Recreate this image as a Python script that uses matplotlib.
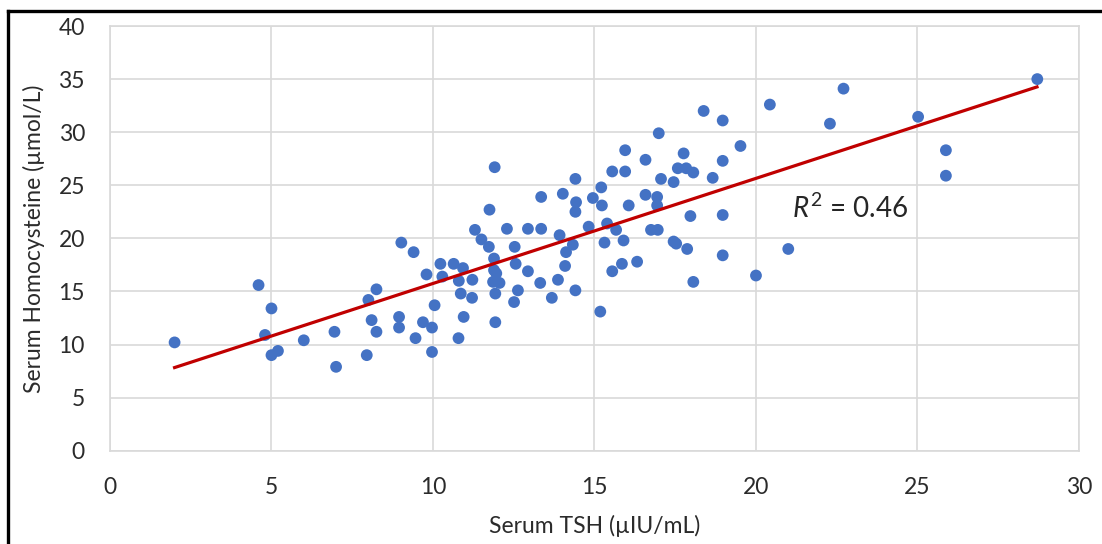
"""Serum TSH vs serum homocysteine scatter with linear trend line (Excel look)."""
import numpy as np
import matplotlib; matplotlib.use("Agg")
import matplotlib.pyplot as plt
from matplotlib.lines import Line2D

plt.rcParams["font.family"] = ["Lato", "DejaVu Sans"]
plt.rcParams["mathtext.fontset"] = "custom"
plt.rcParams["mathtext.rm"] = "Lato"
plt.rcParams["mathtext.it"] = "Lato:italic"

# values
tsh = [2.0, 4.6, 4.8, 5.0, 5.0, 5.2, 6.0, 6.95, 7.0, 8.0, 8.25, 8.1, 8.25, 7.95, 8.95, 8.95,
       9.02, 9.40, 9.80, 10.23, 10.29, 10.64, 10.93, 10.80, 11.22, 10.86, 11.21, 10.05, 10.95,
       9.69, 9.97, 9.46, 10.79, 9.97, 11.93, 11.30, 11.50, 11.73, 11.89, 11.89, 11.96, 11.86,
       12.06, 11.93, 12.29, 12.53, 12.56, 12.63, 12.51, 12.94, 13.35, 12.94, 13.32, 13.68,
       13.87, 13.92, 14.12, 14.09, 14.33, 14.41,
       11.91, 11.75, 13.35, 14.02, 14.41, 14.43, 14.41,
       18.38, 18.97, 16.99, 19.52, 15.95, 16.58, 17.76, 18.97, 17.58, 17.84, 18.06, 15.55,
       15.95, 18.66, 17.06, 17.45, 15.21, 16.58, 16.94, 16.94, 14.95, 15.23, 16.06, 17.97,
       18.97, 14.82, 15.39, 15.67, 16.75, 16.96,
       15.31, 15.90, 17.45, 17.53, 17.87, 18.97, 15.85, 15.55, 16.32, 18.06, 15.18, 20.0,
       20.43, 22.71, 22.29, 25.02, 25.88, 25.88, 28.71, 21.0]
hcy = [10.2, 15.6, 10.9, 13.4, 9.0, 9.4, 10.4, 11.2, 7.9, 14.2, 15.2, 12.3, 11.2, 9.0, 12.6, 11.6,
       19.6, 18.7, 16.6, 17.6, 16.4, 17.6, 17.2, 16.0, 16.1, 14.8, 14.4, 13.7, 12.6,
       12.1, 11.6, 10.6, 10.6, 9.3, 12.1, 20.8, 19.9, 19.2, 18.1, 17.0, 16.7, 15.9,
       15.8, 14.8, 20.9, 19.2, 17.6, 15.1, 14.0, 20.9, 20.9, 16.9, 15.8, 14.4,
       16.1, 20.3, 18.7, 17.4, 19.4, 15.1,
       26.7, 22.7, 23.9, 24.2, 25.6, 23.4, 22.5,
       32.0, 31.1, 29.9, 28.7, 28.3, 27.4, 28.0, 27.3, 26.6, 26.6, 26.2, 26.3,
       26.3, 25.7, 25.6, 25.3, 24.8, 24.1, 23.9, 23.1, 23.8, 23.1, 23.1, 22.1,
       22.2, 21.1, 21.4, 20.8, 20.8, 20.8,
       19.6, 19.8, 19.7, 19.5, 19.0, 18.4, 17.6, 16.9, 17.8, 15.9, 13.1, 16.5,
       32.6, 34.1, 30.8, 31.45, 28.3, 25.9, 35.0, 19.0]
trend_slope, trend_icpt = 0.99, 5.85
trend_span = [2.0, 28.7]
r2 = 0.46

fig = plt.figure(figsize=(11.02, 5.44), dpi=100)
ax = fig.add_axes([0.0998, 0.1715, 0.8793, 0.7807])
ax.scatter(tsh, hcy, s=72, color="#4472c4", edgecolors="none", zorder=3)
tx = np.array(trend_span)
ax.plot(tx, trend_slope * tx + trend_icpt, color="#c00000", lw=2.3, zorder=4)
ax.text(21.1, 22.85, rf"$R^2$ = {r2:.2f}", fontsize=20, color="#262626", va="center", ha="left")

ax.set_xlim(0, 30); ax.set_ylim(0, 40)
ax.set_xticks(range(0, 31, 5)); ax.set_yticks(range(0, 41, 5))
ax.grid(True, color="#d9d9d9", lw=1.2, zorder=0)
ax.set_axisbelow(True)
for s in ax.spines.values():
    s.set_color("#d9d9d9"); s.set_linewidth(1.2)
ax.tick_params(length=0, labelsize=16.5, labelcolor="#2b2b2b")
ax.tick_params(axis="y", pad=18); ax.tick_params(axis="x", pad=19)
ax.set_xlabel("Serum TSH (µIU/mL)", fontsize=16.5, color="#2b2b2b", labelpad=12)
ax.set_ylabel("Serum Homocysteine (µmol/L)", fontsize=16.5, color="#2b2b2b", labelpad=10)

# cropped frame: only top and left edges visible
fig.add_artist(Line2D([8/1102, 1], [1 - 10.5/544] * 2, color="black", lw=2.4, transform=fig.transFigure))
fig.add_artist(Line2D([8/1102] * 2, [0, 1 - 10.5/544], color="black", lw=2.4, transform=fig.transFigure))

fig.savefig("out.png", dpi=100)
